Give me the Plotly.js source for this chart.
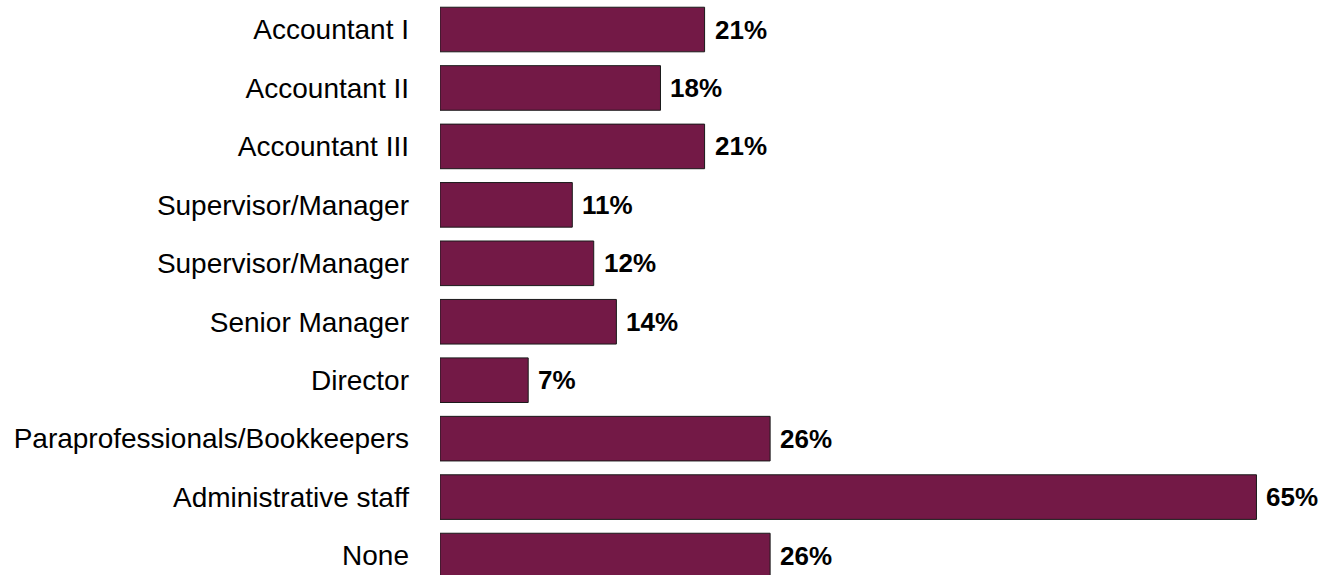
<!DOCTYPE html>
<html>
<head>
<meta charset="utf-8">
<script src="https://cdn.plot.ly/plotly-3.0.1.min.js"></script>
<style>html,body{margin:0;padding:0;background:#fff;}#chart{width:1325px;height:575px;}</style>
</head>
<body>
<div id="chart"></div>
<script>
const categories = ["Accountant I","Accountant II","Accountant III","Supervisor/Manager","Supervisor/Manager","Senior Manager","Director","Paraprofessionals/Bookkeepers","Administrative staff","None"];
const values = [21.0,17.5,21.0,10.5,12.2,14.0,7.0,26.2,64.8,26.2];
const labels = ["21%","18%","21%","11%","12%","14%","7%","26%","65%","26%"];

const positions = categories.map((c,i)=>i);

const trace = {
  type: 'bar',
  orientation: 'h',
  x: values,
  y: positions,
  marker: {color: '#731946', line: {color: '#1a1a1a', width: 1}},
  hoverinfo: 'none'
};

const annotations = values.map((v,i)=>({
  x: v, y: positions[i], xref: 'x', yref: 'y',
  text: '<b>' + labels[i] + '</b>',
  showarrow: false, xanchor: 'left', yanchor: 'middle', xshift: 8,
  font: {family: '"Liberation Sans", Arial, sans-serif', size: 26, color: '#000'}
}));

const layout = {
  width: 1325, height: 575,
  margin: {l: 440, r: 0, t: 0, b: 0, pad: 0},
  paper_bgcolor: '#fff', plot_bgcolor: '#fff',
  showlegend: false,
  bargap: 0.237,
  xaxis: {range: [0, 70.24], showgrid: false, zeroline: false, showline: false, showticklabels: false, ticks: ''},
  yaxis: {
    range: [9.333, -0.505],
    tickmode: 'array', tickvals: positions, ticktext: categories,
    showgrid: false, zeroline: false, showline: false, ticks: '',
    ticklabelstandoff: 30,
    tickfont: {family: '"Liberation Sans", Arial, sans-serif', size: 28, color: '#000'}
  },
  annotations: annotations
};

Plotly.newPlot('chart', [trace], layout, {displayModeBar: false, staticPlot: true});
</script>
</body>
</html>
